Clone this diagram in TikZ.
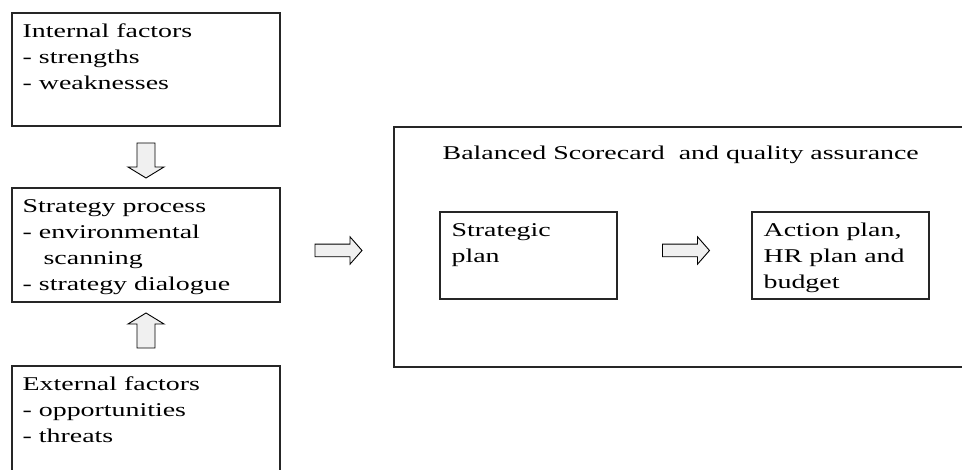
\documentclass[tikz,border=0pt]{standalone}
\usepackage{fontspec}
\setmainfont{Liberation Serif}[FakeStretch=1.43]
\usetikzlibrary{calc}

\tikzset{
  box/.style={draw=black!85, line width=1.1pt, inner sep=0pt},
  boxtext/.style={anchor=north west, inner sep=0pt, align=left, font=\fontsize{19.5}{26}\selectfont},
  arrowbody/.style={draw=black, line width=0.9pt, fill=gray!12, line join=miter},
  harrow/.pic={\draw[arrowbody] (-22,-6.3) -- (13,-6.3) -- (13,-13.7) -- (25,0) -- (13,13.7) -- (13,6.3) -- (-22,6.3) -- cycle;},
  varrow/.pic={\draw[arrowbody] (-9,14) -- (-9,-10) -- (-18,-10) -- (0,-21) -- (18,-10) -- (9,-10) -- (9,14) -- cycle;}
}

\begin{document}
\begin{tikzpicture}[x=1pt,y=1pt]
  \useasboundingbox (0,0) rectangle (962,-470);
  \clip (0,0) rectangle (962,-470);

  \path (146,-69.5) node[box, minimum width=268pt, minimum height=113pt] (internal) {};
  \path (146,-245) node[box, minimum width=268pt, minimum height=114pt] (process) {};
  \path (146,-423) node[box, minimum width=268pt, minimum height=114pt] (external) {};
  \path (684.5,-247) node[box, minimum width=581pt, minimum height=240pt] (bsc) {};
  \path (528.5,-255.5) node[box, minimum width=177pt, minimum height=87pt] (stratplan) {};
  \path (840.5,-255.5) node[box, minimum width=177pt, minimum height=87pt] (actionplan) {};

  \node[boxtext] (internaltext) at ([shift={(11,-6.8)}]internal.north west)
    {\strut Internal factors\\- strengths\\- weaknesses};
  \node[boxtext] (processtext) at ([shift={(11,-6.8)}]process.north west)
    {\strut Strategy process\\- environmental\\\hspace*{21pt}scanning\\- strategy dialogue};
  \node[boxtext] (externaltext) at ([shift={(11,-6.8)}]external.north west)
    {\strut External factors\\- opportunities\\- threats};
  \node[boxtext] (bsctext) at ([shift={(49,-14.8)}]bsc.north west)
    {\strut Balanced Scorecard\ \ and quality assurance};
  \node[boxtext] (stratplantext) at ([shift={(12,-6.8)}]stratplan.north west)
    {\strut Strategic\\plan};
  \node[boxtext] (actionplantext) at ([shift={(12,-6.8)}]actionplan.north west)
    {\strut Action plan,\\HR plan and\\budget};

  \path ($(internal.south)!0.5!(process.north)$) pic{varrow};
  \path ($(external.north)!0.5!(process.south)$) pic[yscale=-1]{varrow};
  \path ($(process.east)!0.5!(bsc.west)+(0,-4.5)$) pic{harrow};
  \path ($(stratplan.east)!0.5!(actionplan.west)+(0,5)$) pic{harrow};
\end{tikzpicture}
\end{document}
